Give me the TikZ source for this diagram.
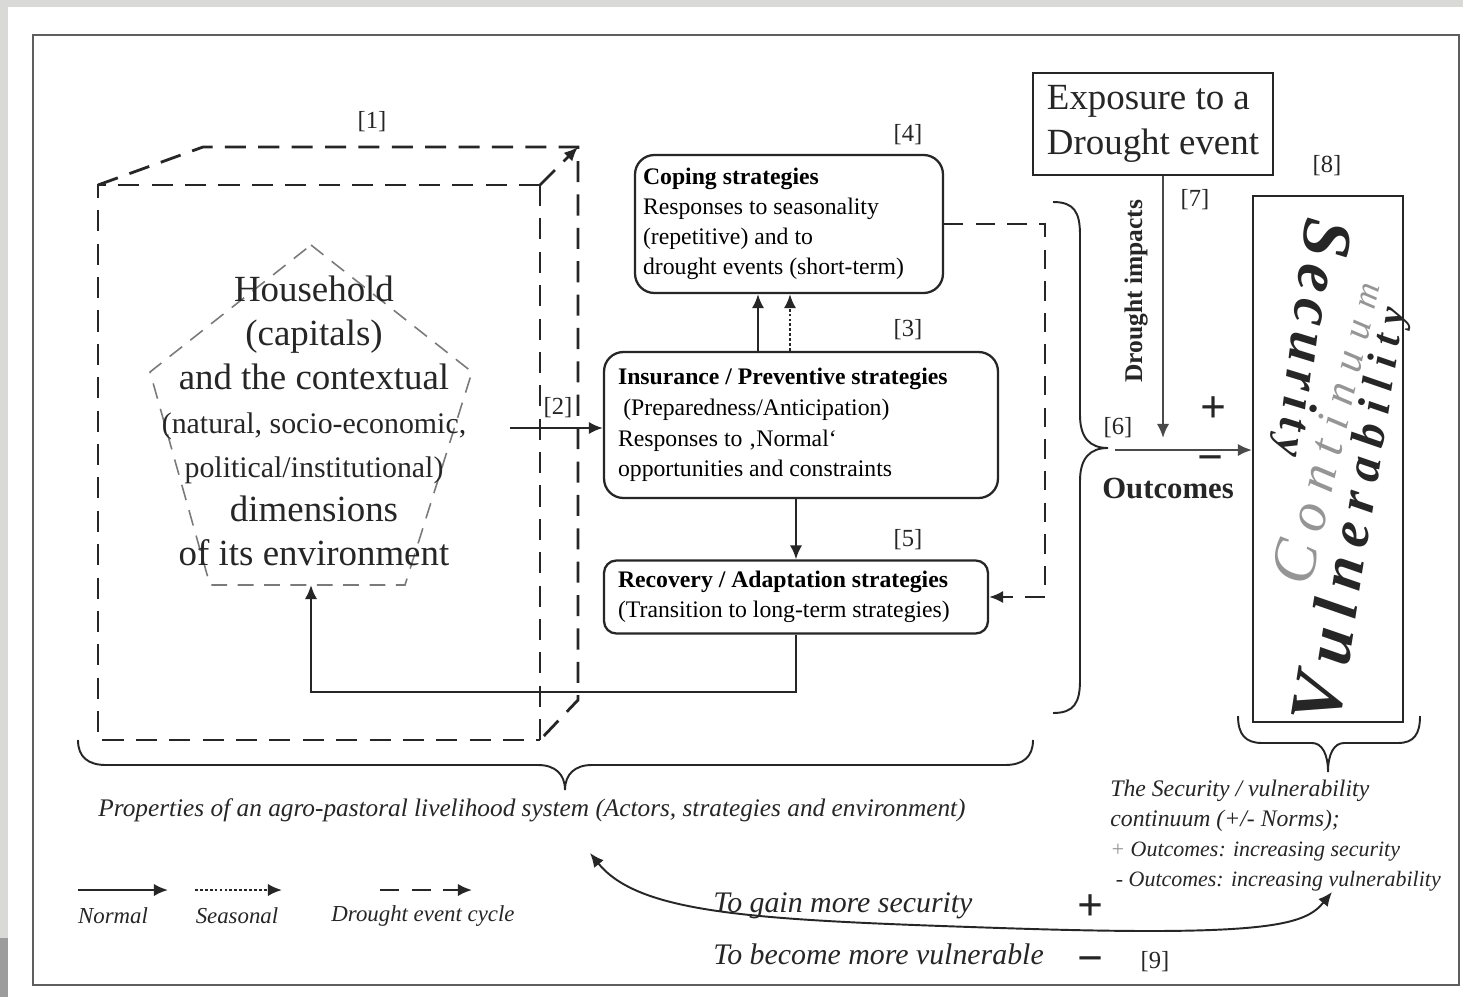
\documentclass[tikz,border=0pt]{standalone}
\usepackage{fontspec}
\setmainfont{Liberation Serif}
\usetikzlibrary{positioning, arrows.meta, calc}
\definecolor{InkA}{HTML}{262626}
\definecolor{InkB}{HTML}{4A4A4A}
\definecolor{PageA}{HTML}{D9DAD7}
\definecolor{PageB}{HTML}{9C9C9C}
\definecolor{FrameA}{HTML}{5E5E5E}
\definecolor{PentA}{HTML}{7A7A7A}
\definecolor{SoftA}{HTML}{959595}
\newcommand{\fs}[2]{\fontsize{#1}{#2}\selectfont}
\newcommand{\lt}[3][4pt]{{\fontsize{#2}{#2}\selectfont #3}\kern#1}
\tikzset{
  box/.style={draw=InkA, rounded corners=11pt, line width=1.3pt, align=left,
              inner sep=0pt, font=\fs{13.5}{17}},
  sqbox/.style={draw=InkA, line width=1.2pt, inner sep=0pt},
  arr/.style={-{Latex[length=8pt, width=7pt]}, line width=1.3pt, draw=InkA},
  arrgray/.style={arr, draw=InkB},
  arrdot/.style={arr, dash pattern=on 1.6pt off 1.2pt},
  arrdash/.style={arr, dash pattern=on 11pt off 7pt},
  cube/.style={draw=InkA, line width=1.6pt, dash pattern=on 12pt off 7pt},
  pent/.style={draw=PentA, line width=0.9pt, dash pattern=on 9pt off 6pt},
  brace/.style={draw=InkA, line width=1.1pt},
  tag/.style={font=\fs{14}{16}, inner sep=0pt, text=InkA},
  lgtxt/.style={font=\fs{13}{15}\itshape, inner sep=0pt, text=InkA},
  sign/.style={font=\fs{26}{26}\bfseries, inner sep=0pt, text=InkA}
}

\begin{document}
\begin{tikzpicture}[x=0.02cm, y=-0.02cm]

  % ----- page and frame -----
  \useasboundingbox (0,0) rectangle (1463,997);
  \fill[PageA] (0,0) rectangle (1463,997);
  \fill[white] (8,7) rectangle (1463,997);
  \fill[PageB] (0,938) rectangle (8,997);
  \draw[FrameA, line width=1.4pt] (33,35) rectangle (1459,985);

  % ----- cube [1] -----
  \coordinate (fa) at (98,185);
  \coordinate (fb) at (540,185);
  \coordinate (fc) at (540,740);
  \coordinate (fd) at (98,740);
  \coordinate (ba) at (203,147);
  \coordinate (bb) at (578,147);
  \coordinate (bc) at (578,700);
  \draw[cube] (fb) -- (fa) -- (fd) -- (fc);
  \draw[cube, line width=1.1pt] (fb) -- (fc);
  \draw[cube] (fa) -- (ba) -- (bb) -- (bc) -- (fc);
  \draw[cube, -{Latex[length=8pt, width=7pt]}] (fb) -- (bb);
  \node[tag] (t1) at (372,122) {[1]};

  % ----- household pentagon -----
  \coordinate (pa) at (311,245);
  \coordinate (pb) at (472,372);
  \coordinate (pbot) at (311,585);
  \draw[pent] (pa) -- (pb) -- (405,585) -- (210,585) -- (150,372) -- cycle;
  \node[align=center, inner sep=0pt, text=InkA, font=\fs{21}{25}] (house) at (314,421)
    {Household\\
     (capitals)\\
     and the contextual\\
     {\fontsize{17}{25}\selectfont (natural, socio-economic,}\\
     {\fontsize{17}{25}\selectfont political/institutional)}\\
     dimensions\\
     of its environment};

  % ----- strategy boxes -----
  \node[box, minimum width=6.16cm, minimum height=2.76cm] (coping) at (789,224)
    {\begin{minipage}{5.84cm}\fs{13.5}{17}
     \textbf{Coping strategies}\\
     Responses to seasonality\\
     (repetitive) and to\\
     drought events (short-term)\end{minipage}};
  \node[box, minimum width=7.88cm, minimum height=2.92cm] (insure) at (801,425)
    {\begin{minipage}{7.32cm}\fs{13.5}{17.5}
     \textbf{Insurance / Preventive strategies}\\
     \hspace*{3pt}(Preparedness/Anticipation)\\
     Responses to ‚Normal‘\\
     opportunities and constraints\end{minipage}};
  \node[box, rounded corners=7pt, minimum width=7.68cm, minimum height=1.46cm] (recov) at (796,597)
    {\begin{minipage}{7.12cm}\fs{13.5}{17}
     \textbf{Recovery / Adaptation strategies}\\
     (Transition to long-term strategies)\end{minipage}};
  \node[tag] (t2) at (558,408) {[2]};
  \node[tag] (t3) at (908,330) {[3]};
  \node[tag] (t4) at (908,135) {[4]};
  \node[tag] (t5) at (908,540) {[5]};

  % ----- connectors between household and strategies -----
  \coordinate (hout) at (510,428);
  \draw[arr] (hout) -- (hout -| insure.west);
  \coordinate (xs) at (758,0);
  \coordinate (xd) at (790,0);
  \draw[arr] (xs |- insure.north) -- (xs |- coping.south);
  \draw[arrdot] (xd |- insure.north) -- (xd |- coping.south);
  \draw[arr] (insure.south -| recov.north) -- (recov.north);
  \draw[arr] (recov.south) -- ++(0,57) -| (pbot);
  \draw[arrdash] (coping.east) -- (1045,224) -- (1045,597) -- (recov.east);

  % ----- outcomes brace -----
  \draw[brace] (1053,202) .. controls (1074,202) and (1080,212) .. (1080,235)
    -- (1080,415) .. controls (1080,438) and (1090,448) .. (1108,448)
    .. controls (1090,448) and (1080,458) .. (1080,481)
    -- (1080,680) .. controls (1080,703) and (1074,713) .. (1053,713);
  \node[tag] (t6) at (1118,428) {[6]};
  \node[font=\fs{17.5}{20}\bfseries, inner sep=0pt, text=InkA] (outcm) at (1168,489) {Outcomes};

  % ----- exposure -----
  \node[sqbox, minimum width=4.8cm, minimum height=2.04cm, align=left,
        font=\fs{21}{25.5}, text=InkA] (expo) at (1153,124)
    {Exposure to a\\Drought event};
  \node[tag] (t7) at (1195,200) {[7]};
  \node[tag] (t8) at (1327,166) {[8]};

  % ----- security / vulnerability continuum -----
  \node[sqbox, minimum width=3.0cm, minimum height=10.52cm] (vuln) at (1328,459) {};
  \node[rotate=-97, inner sep=0pt, font=\bfseries\itshape, text=InkA] (secu) at (1310,338)
    {\lt{40}{S}\lt{36}{e}\lt{34}{c}\lt{32}{u}\lt{30}{r}\lt{28}{i}\lt{26}{t}{\fs{24}{24}y}};
  \node[rotate=77, inner sep=0pt, font=\itshape, text=SoftA] (cont) at (1325,432)
    {\lt[7pt]{36}{C}\lt[7pt]{32}{o}\lt[7pt]{30}{n}\lt[7pt]{28}{t}\lt[7pt]{26}{i}\lt[7pt]{25}{n}\lt[7pt]{24}{u}\lt[7pt]{22}{u}{\fs{20}{20}m}};
  \node[rotate=81, inner sep=0pt, font=\bfseries\itshape, text=InkA] (vuln-t) at (1352,515)
    {\lt[6pt]{42}{V}\lt[6pt]{38}{u}\lt[6pt]{36}{l}\lt[6pt]{34}{n}\lt[6pt]{32}{e}\lt[6pt]{30}{r}\lt[6pt]{28}{a}\lt[6pt]{27}{b}\lt[6pt]{26}{i}\lt[6pt]{25}{l}\lt[6pt]{24}{i}\lt[6pt]{23}{t}{\fs{22}{22}y}};

  % ----- impacts and outcomes arrows -----
  \coordinate (outc) at (1115,450);
  \coordinate (dx) at (1163,0);
  \draw[arrgray] (dx |- expo.south) -- ($(dx |- outc)+(0,-12)$)
    node[pos=0.44, left=8pt, rotate=90, anchor=south, font=\fs{14.5}{16}\bfseries,
         inner sep=0pt, text=InkA] (impt) {Drought impacts};
  \draw[arrgray] (outc) -- (outc -| vuln.west);
  \node[sign] (plusA) at (1213,410) {+};
  \node[sign] (minusA) at (1210,464) {−};

  % ----- bottom braces and captions -----
  \draw[brace] (78,740) .. controls (78,757) and (88,765) .. (106,765)
    -- (538,765) .. controls (555,765) and (565,774) .. (565,790)
    .. controls (565,774) and (575,765) .. (592,765)
    -- (1005,765) .. controls (1023,765) and (1033,757) .. (1033,740);
  \node[font=\fs{14.4}{16}\itshape, inner sep=0pt, text=InkA] (props) at (532,810)
    {Properties of an agro-pastoral livelihood system (Actors, strategies and environment)};
  \draw[brace] (1238,716) .. controls (1238,734) and (1245,743) .. (1262,743)
    -- (1312,743) .. controls (1322,743) and (1328,754) .. (1328,772)
    .. controls (1328,754) and (1334,743) .. (1344,743)
    -- (1398,743) .. controls (1414,743) and (1420,734) .. (1420,716);
  \node[anchor=north west, align=left, inner sep=0pt, text=InkA,
        font=\fs{13.5}{17}\itshape] (cnote) at (1110,780)
    {The Security / vulnerability\\
     continuum (+/- Norms);\\
     {\fontsize{12.5}{17}\selectfont \textcolor{SoftA}{+} Outcomes: increasing security}\\
     {\fontsize{12.5}{17}\selectfont \ - Outcomes: increasing vulnerability}};

  % ----- [9] feedback curve -----
  \coordinate (ltip) at (590,853);
  \coordinate (rtip) at (1332,892);
  \draw[arr, {Latex[length=8pt, width=7pt]}-{Latex[length=8pt, width=7pt]}, line width=1.1pt]
    (ltip) .. controls (640,915) and (760,920) .. (1000,928)
    .. controls (1270,937) and (1305,925) .. (rtip);
  \node[font=\fs{17}{20}\itshape, anchor=west, inner sep=0pt, text=InkA] (gain) at (713,906) {To gain more security};
  \node[font=\fs{17}{20}\itshape, anchor=west, inner sep=0pt, text=InkA] (lose) at (713,954) {To become more vulnerable};
  \node[sign] (plusB) at (1090,908) {+};
  \node[sign] (minusB) at (1090,965) {−};
  \node[tag] (t9) at (1155,962) {[9]};

  % ----- legend -----
  \node[lgtxt] (lgn) at (113,916) {Normal};
  \node[lgtxt] (lgs) at (237,916) {Seasonal};
  \node[lgtxt] (lgd) at (423,916) {Drought event cycle};
  \coordinate (lna) at (78,890);
  \coordinate (lnb) at (168,890);
  \coordinate (lsa) at (195,890);
  \coordinate (lsb) at (282,890);
  \coordinate (lda) at (380,890);
  \coordinate (ldb) at (472,890);
  \draw[arr] (lna) -- (lnb);
  \draw[arrdot] (lsa) -- (lsb);
  \draw[arrdash] (lda) -- (ldb);

\end{tikzpicture}
\end{document}
